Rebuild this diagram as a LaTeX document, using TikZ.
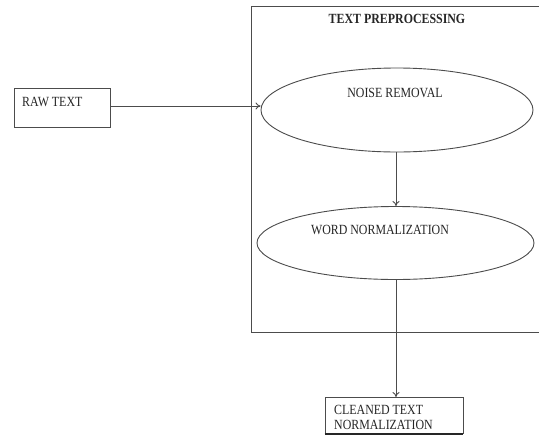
\documentclass[tikz,border=0pt]{standalone}
\usepackage{fontspec}
\setmainfont{Liberation Serif}[FakeStretch=0.85]
\usetikzlibrary{arrows.meta,shapes.geometric}
\begin{document}
\begin{tikzpicture}[x=1pt,y=-1pt,
  line/.style={draw=black!70,line width=0.9pt},
  arr/.style={line,-{To[length=5pt,width=7pt]}},
  lbl/.style={font=\fontsize{14}{15}\selectfont,text=black!85,inner sep=0pt},
  ell/.style={line,ellipse,inner sep=0pt}]
\useasboundingbox (0,0) rectangle (539,437);
\fill[white] (0,0) rectangle (539,437);
% outer box
\draw[line] (251.5,6) -- (545,6) (251.5,6) -- (251.5,332) -- (545,332);
\node[lbl,font=\fontsize{14}{15}\selectfont\bfseries] (title) at (397,19) {TEXT PREPROCESSING};
% raw text
\node[line,minimum width=96pt,minimum height=39pt,inner sep=0pt] (raw) at (62,107.5) {};
\node[lbl,anchor=west] (rawt) at (22,102) {RAW TEXT};
% ellipses
\node[ell,minimum width=272pt,minimum height=84pt] (e1) at (397,110) {};
\node[lbl] (e1t) at (395,93) {NOISE REMOVAL};
\node[ell,minimum width=277pt,minimum height=73pt] (e2) at (395.5,243) {};
\node[lbl] (e2t) at (380,230) {WORD NORMALIZATION};
% cleaned box
\node[line,minimum width=138pt,minimum height=36pt,inner sep=0pt] (cl) at (394,415.5) {};
\node[lbl,anchor=west,align=left] (clt) at (334,417.5) {CLEANED TEXT\\[0pt]NORMALIZATION};
\draw[line,line width=1.6pt,draw=black!85] (cl.south west) -- (cl.south east);
% connectors
\draw[arr] (raw.east |- 0,106) -- (e1.west |- 0,106);
\draw[arr] (e1.south -| 396,0) -- (e2.north -| 396,0);
\draw[arr] (e2.south -| 396,0) -- (cl.north -| 396,0);
\end{tikzpicture}
\end{document}
